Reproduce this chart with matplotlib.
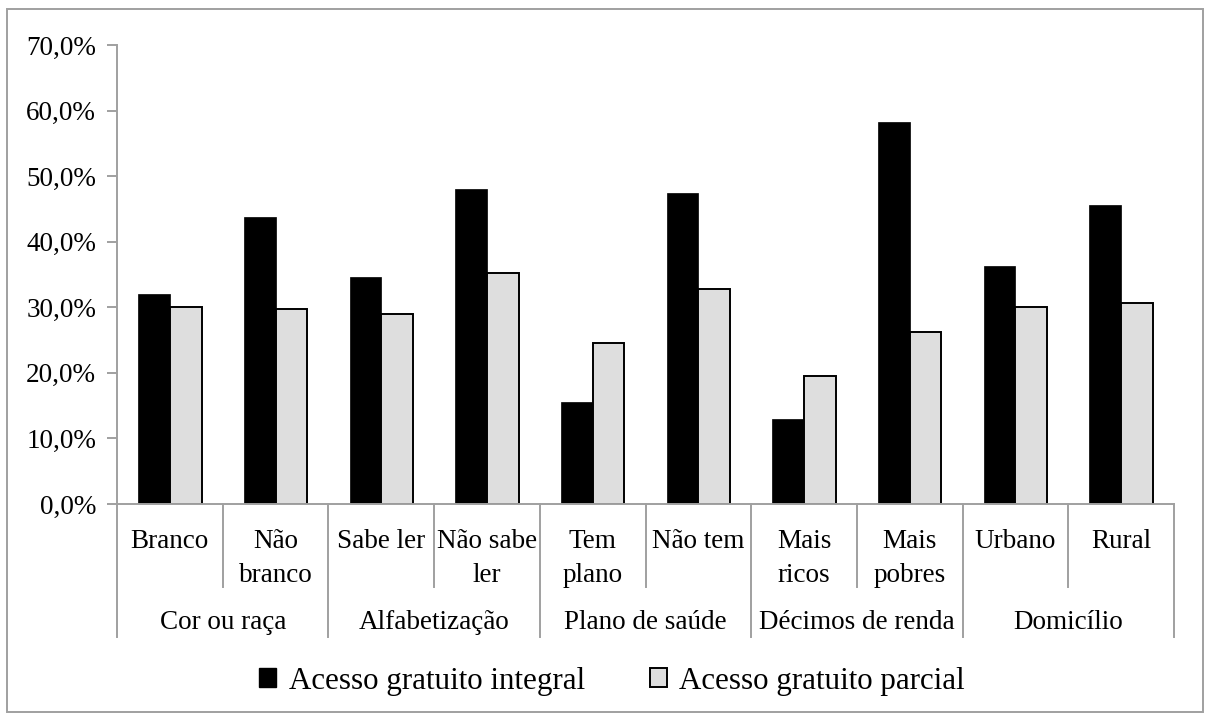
import numpy as np
import matplotlib
matplotlib.use("Agg")
import matplotlib.pyplot as plt
from matplotlib.patches import Patch, Rectangle

plt.rcParams['font.family'] = ['Liberation Serif', 'DejaVu Serif']

categorias = ['Branco', 'Não\nbranco', 'Sabe ler', 'Não sabe\nler', 'Tem\nplano',
              'Não tem', 'Mais\nricos', 'Mais\npobres', 'Urbano', 'Rural']
grupos = ['Cor ou raça', 'Alfabetização', 'Plano de saúde', 'Décimos de renda', 'Domicílio']
integral = [32.1, 43.8, 34.6, 48.1, 15.5, 47.4, 13.0, 58.2, 36.3, 45.6]
parcial = [30.1, 29.8, 28.9, 35.2, 24.6, 32.8, 19.5, 26.2, 30.1, 30.7]
yticks = [0, 10, 20, 30, 40, 50, 60, 70]

cinza = '#a0a0a0'
fs = 19.5
fig = plt.figure(figsize=(12.07, 7.2), dpi=100)
ax = fig.add_axes([117/1207, 1-504/720, (1174-117)/1207, (504-45)/720])

x = np.arange(len(categorias))
w = 0.3
ax.bar(x - w/2, integral, w, color='black', edgecolor='black', linewidth=0.5)
ax.bar(x + w/2, parcial, w, color='#dedede', edgecolor='black', linewidth=1.4)

ax.set_xlim(-0.5, len(categorias) - 0.5)
ax.set_ylim(0, 70)
ax.set_yticks(yticks)
ax.set_yticklabels([('%.1f%%' % v).replace('.', ',') for v in yticks], fontsize=fs)
ax.yaxis.set_tick_params(length=7, width=1.4, color=cinza, pad=8)
ax.set_xticks([])
for s in ['top', 'right']:
    ax.spines[s].set_visible(False)
for s in ['left', 'bottom']:
    ax.spines[s].set_color(cinza)
    ax.spines[s].set_linewidth(1.4)

tr = ax.get_xaxis_transform()
for i, c in enumerate(categorias):
    ax.text(i, -0.055, c, transform=tr, ha='center', va='top', fontsize=fs, linespacing=1.45)
# separadores abaixo do eixo
for b in np.arange(-0.5, len(categorias), 1.0):
    k = int(b + 0.5)
    fim = -0.29 if k % 2 == 0 else -0.181
    ax.plot([b, b], [0, fim], transform=tr, color=cinza, lw=1.4, clip_on=False)
for j, g in enumerate(grupos):
    ax.text(2*j + 0.5, -0.231, g, transform=tr, ha='center', va='top', fontsize=fs)

handles = [Patch(facecolor='black', edgecolor='black', label='Acesso gratuito integral'),
           Patch(facecolor='#dedede', edgecolor='black', linewidth=1.4, label='Acesso gratuito parcial')]
fig.legend(handles=handles, loc='center', bbox_to_anchor=(612/1207, 1-681/720), ncol=2,
           frameon=False, fontsize=22.3, handlelength=0.55, handleheight=0.55,
           handletextpad=0.4, columnspacing=2.1)

fig.patches.append(Rectangle((7/1207, 1-712/720), (1203-7)/1207, (712-9)/720,
                             transform=fig.transFigure, fill=False, edgecolor=cinza, lw=1.4))

fig.savefig('out.png', dpi=100)
